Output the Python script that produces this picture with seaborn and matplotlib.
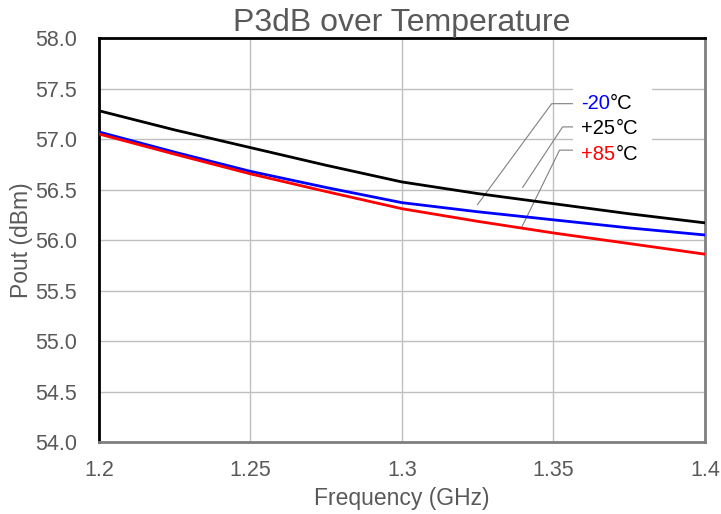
import matplotlib
matplotlib.use("Agg")
import matplotlib.pyplot as plt
import seaborn as sns
import pandas as pd

freq = [1.2, 1.225, 1.25, 1.275, 1.3, 1.325, 1.35, 1.375, 1.4]
p_m20 = [57.07, 56.87, 56.68, 56.52, 56.37, 56.28, 56.20, 56.12, 56.05]
p_p25 = [57.28, 57.09, 56.915, 56.74, 56.575, 56.46, 56.36, 56.26, 56.17]
p_p85 = [57.05, 56.85, 56.655, 56.48, 56.31, 56.185, 56.07, 55.965, 55.86]
labels = ["-20", "+25", "+85"]
colors = ["#0000ff", "#000000", "#ff0000"]
xticks = [1.2, 1.25, 1.3, 1.35, 1.4]
xticklabels = ["1.2", "1.25", "1.3", "1.35", "1.4"]
yticks = [54.0, 54.5, 55.0, 55.5, 56.0, 56.5, 57.0, 57.5, 58.0]

sns.set_theme(style="white")
plt.rcParams["font.family"] = ["Liberation Sans", "DejaVu Sans"]
gray = "#595959"

df = pd.DataFrame({
    "freq": freq * 3,
    "pout": p_m20 + p_p25 + p_p85,
    "temp": [labels[0]] * len(freq) + [labels[1]] * len(freq) + [labels[2]] * len(freq),
})

fig = plt.figure(figsize=(7.21, 5.14), dpi=100)
ax = fig.add_axes([0.1373, 0.140, 0.8405, 0.786])
ax.set_axisbelow(True)
ax.grid(True, color="#bfbfbf", linewidth=1.0)
sns.lineplot(data=df, x="freq", y="pout", hue="temp", palette=dict(zip(labels, colors)),
             linewidth=2.0, legend=False, ax=ax, zorder=3)
ax.set_xlim(1.2, 1.4)
ax.set_ylim(54.0, 58.0)
ax.set_xticks(xticks)
ax.set_xticklabels(xticklabels)
ax.set_yticks(yticks)
ax.set_yticklabels([f"{v:.1f}" for v in yticks])
ax.tick_params(axis="x", labelsize=15.5, colors=gray, length=0, pad=13)
ax.tick_params(axis="y", labelsize=15.5, colors=gray, length=0, pad=16)
ax.set_xlabel("Frequency (GHz)", fontsize=16.5, color=gray, labelpad=4)
ax.set_ylabel("Pout (dBm)", fontsize=16.5, color=gray, labelpad=1)
ax.set_title("P3dB over Temperature", fontsize=23, color=gray, pad=5)

for side in ["left", "top"]:
    ax.spines[side].set_color("black")
    ax.spines[side].set_linewidth(2.0)
ax.spines["bottom"].set_color("#7f7f7f")
ax.spines["bottom"].set_linewidth(2.0)
ax.spines["right"].set_color("#808080")
ax.spines["right"].set_linewidth(2.0)

# leader lines
leaders = [
    ((1.3249, 56.35), (1.3494, 57.35), (1.3566, 57.35)),
    ((1.3398, 56.52), (1.3530, 57.12), (1.3566, 57.12)),
    ((1.3394, 56.12), (1.3520, 56.89), (1.3566, 56.89)),
]
for pts in leaders:
    xs = [p[0] for p in pts]
    ys = [p[1] for p in pts]
    ax.plot(xs, ys, color="#808080", linewidth=0.8, zorder=2)

ax.add_patch(plt.Rectangle((1.3566, 56.76), 0.0258, 0.76, facecolor="white",
                           edgecolor="none", zorder=2.5))
ys_lab = [57.35, 57.10, 56.85]
for lab, col, yv in zip(labels, colors, ys_lab):
    t1 = ax.text(1.3592, yv, lab, color=col, fontsize=14.5, va="center", ha="left", zorder=4)
    fig.canvas.draw()
    bb = t1.get_window_extent().transformed(ax.transData.inverted())
    ax.text(bb.x1, yv, "°C", color="black", fontsize=14.5, va="center", ha="left", zorder=4)

fig.savefig("out.png", dpi=100)
